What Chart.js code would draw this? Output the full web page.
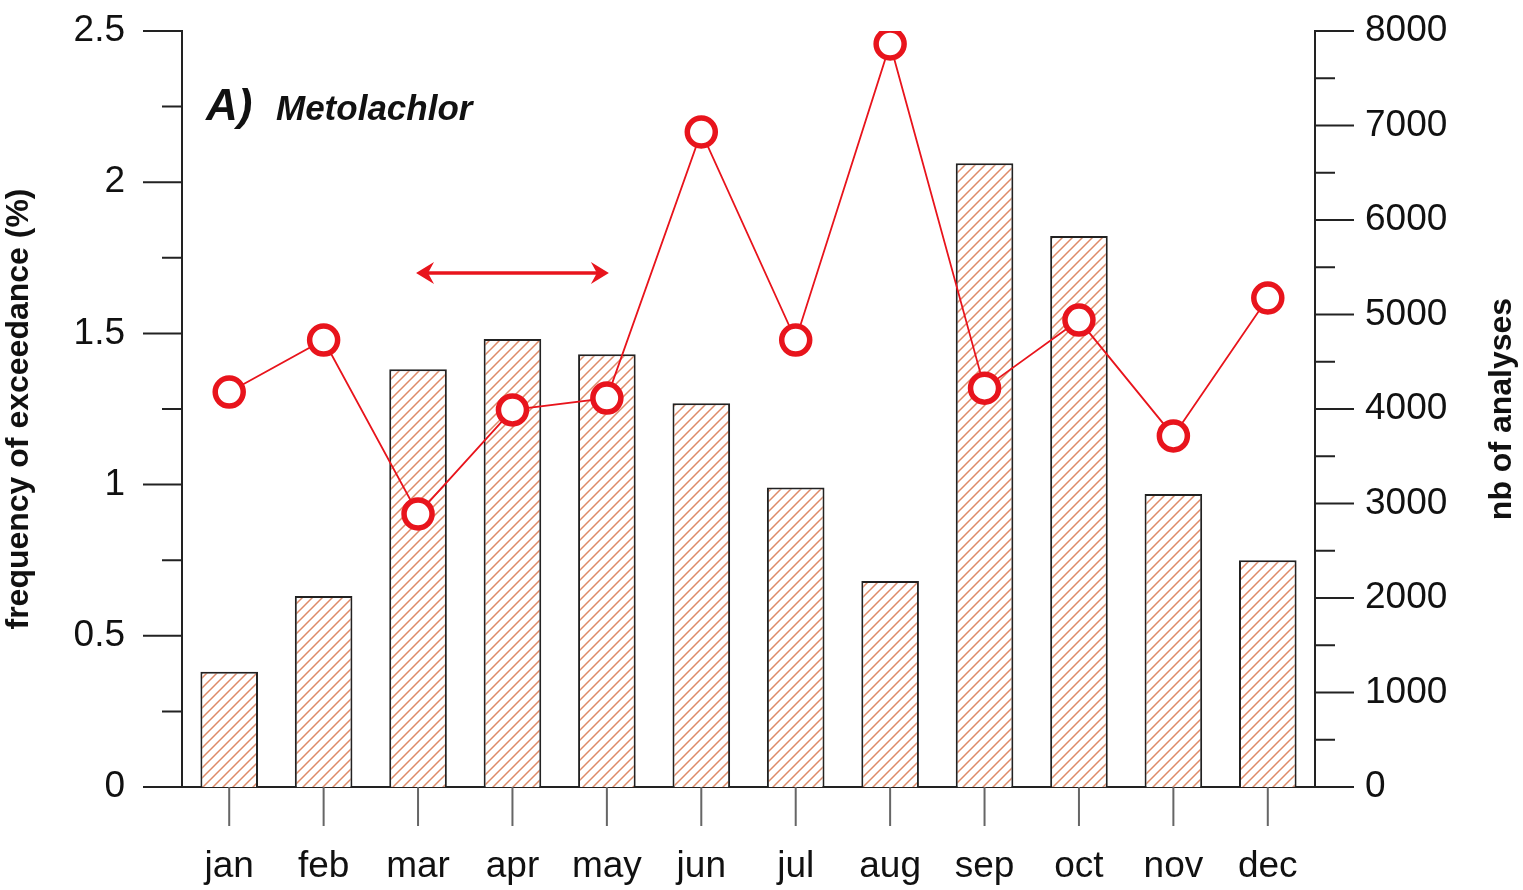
<!DOCTYPE html>
<html>
<head>
<meta charset="utf-8">
<title>Metolachlor</title>
<script src="https://cdn.jsdelivr.net/npm/chart.js@4/dist/chart.umd.min.js"></script>
<style>
  html, body { margin: 0; padding: 0; background: #fff; }
  #wrap { width: 1523px; height: 890px; }
</style>
</head>
<body>
<div id="wrap"><canvas id="chart" width="1523" height="890"></canvas></div>
<script>
const months = ['jan','feb','mar','apr','may','jun','jul','aug','sep','oct','nov','dec'];
// nb of analyses (right axis)
const analyses = [1220, 2020, 4420, 4740, 4580, 4060, 3170, 2180, 6600, 5830, 3100, 2400];
// frequency of exceedance in % (left axis)
const exceedance = [1.306, 1.478, 0.903, 1.247, 1.286, 2.166, 1.478, 2.457, 1.319, 1.544, 1.161, 1.617];
const leftTicks = [0, 0.5, 1, 1.5, 2, 2.5];
const rightTicks = [0, 1000, 2000, 3000, 4000, 5000, 6000, 7000, 8000];

const red = '#e8141c';
const font = 'Arial, "Liberation Sans", sans-serif';

// diagonal hatch fill
function hatch() {
  const c = document.createElement('canvas');
  c.width = 10; c.height = 10;
  const g = c.getContext('2d');
  g.fillStyle = '#fff';
  g.fillRect(0, 0, 10, 10);
  g.strokeStyle = '#de8a68';
  g.lineWidth = 1.5;
  g.beginPath();
  g.moveTo(0, 10); g.lineTo(10, 0);
  g.moveTo(-5, 5); g.lineTo(5, -5);
  g.moveTo(5, 15); g.lineTo(15, 5);
  g.stroke();
  return g.createPattern(c, 'repeat');
}

// no extra room for overflowing tick labels
function noPad(s) {
  s.paddingTop = 0; s.paddingBottom = 0; s.paddingLeft = 0; s.paddingRight = 0;
}

// axis ticks (major + minor) drawn outside the plot, plus arrow, titles
const decor = {
  id: 'decor',
  afterDraw(chart) {
    const ctx = chart.ctx;
    const a = chart.chartArea;
    const yl = chart.scales.y, yr = chart.scales.y2, x = chart.scales.x;
    ctx.save();
    ctx.strokeStyle = '#222';
    ctx.lineWidth = 2;
    ctx.beginPath();
    for (let v = 0; v <= 2.5001; v += 0.25) {
      const p = yl.getPixelForValue(v);
      const len = Math.abs(v / 0.5 - Math.round(v / 0.5)) < 1e-6 ? 39 : 20;
      ctx.moveTo(a.left - len, p); ctx.lineTo(a.left, p);
    }
    for (let v = 0; v <= 8000; v += 500) {
      const p = yr.getPixelForValue(v);
      const len = v % 1000 === 0 ? 39 : 20;
      ctx.moveTo(a.right, p); ctx.lineTo(a.right + len, p);
    }
    ctx.stroke();
    ctx.strokeStyle = '#666';
    ctx.beginPath();
    months.forEach((m, i) => {
      const p = x.getPixelForValue(i);
      ctx.moveTo(p, a.bottom); ctx.lineTo(p, a.bottom + 39);
    });
    ctx.stroke();

    // double arrow from mar to may
    const x1 = x.getPixelForValue(2), x2 = x.getPixelForValue(4);
    const ya = yl.getPixelForValue(1.70);
    ctx.strokeStyle = red; ctx.fillStyle = red; ctx.lineWidth = 3.5;
    ctx.beginPath(); ctx.moveTo(x1 + 6, ya); ctx.lineTo(x2 - 6, ya); ctx.stroke();
    ctx.beginPath();
    ctx.moveTo(x1 - 2, ya); ctx.lineTo(x1 + 16, ya - 11); ctx.lineTo(x1 + 10, ya); ctx.lineTo(x1 + 16, ya + 11); ctx.closePath();
    ctx.moveTo(x2 + 2, ya); ctx.lineTo(x2 - 16, ya - 11); ctx.lineTo(x2 - 10, ya); ctx.lineTo(x2 - 16, ya + 11); ctx.closePath();
    ctx.fill();

    ctx.fillStyle = '#111';
    ctx.textBaseline = 'alphabetic';
    ctx.font = 'italic bold 44px ' + font;
    ctx.fillText('A)', a.left + 24, a.top + 89);
    ctx.font = 'italic bold 35px ' + font;
    ctx.fillText('Metolachlor', a.left + 94, a.top + 89);

    // right axis title, reading bottom to top
    ctx.translate(1502, (a.top + a.bottom) / 2);
    ctx.rotate(-Math.PI / 2);
    ctx.textAlign = 'center';
    ctx.textBaseline = 'middle';
    ctx.font = 'bold 32px ' + font;
    ctx.fillText('nb of analyses', 0, 0);
    ctx.restore();
  }
};

new Chart(document.getElementById('chart'), {
  data: {
    labels: months,
    datasets: [
      {
        type: 'line',
        data: exceedance,
        yAxisID: 'y',
        borderColor: red,
        borderWidth: 1.8,
        pointRadius: 14,
        pointBorderWidth: 5.5,
        pointBorderColor: red,
        pointBackgroundColor: '#fff',
        order: 0
      },
      {
        type: 'bar',
        data: analyses,
        yAxisID: 'y2',
        backgroundColor: hatch(),
        borderColor: '#222',
        borderWidth: 2,
        barPercentage: 0.61,
        categoryPercentage: 1,
        order: 1
      }
    ]
  },
  options: {
    responsive: false,
    animation: false,
    layout: { padding: { top: 31, left: 0, right: 0, bottom: 0 } },
    plugins: { legend: { display: false }, tooltip: { enabled: false } },
    scales: {
      x: {
        offset: true,
        grid: { display: false, drawTicks: false },
        border: { display: true, color: '#222', width: 2 },
        ticks: { color: '#111', font: { family: font, size: 37 }, padding: 58 },
        afterFit(s) { s.height = 103; noPad(s); }
      },
      y: {
        position: 'left',
        min: 0, max: 2.5,
        afterBuildTicks(s) { s.ticks = leftTicks.map(v => ({ value: v })); },
        grid: { display: false, drawTicks: false },
        border: { display: true, color: '#222', width: 2 },
        ticks: { color: '#111', font: { family: font, size: 37 }, padding: 57, callback: v => String(v) },
        title: { display: true, text: 'frequency of exceedance (%)', color: '#111', font: { family: font, size: 32, weight: 'bold' }, padding: 0 },
        afterFit(s) { s.width = 182; noPad(s); }
      },
      y2: {
        position: 'right',
        min: 0, max: 8000,
        afterBuildTicks(s) { s.ticks = rightTicks.map(v => ({ value: v })); },
        grid: { display: false, drawTicks: false },
        border: { display: true, color: '#222', width: 2 },
        ticks: { color: '#111', font: { family: font, size: 37 }, padding: 50, callback: v => String(v) },
        afterFit(s) { s.width = 208; noPad(s); }
      }
    }
  },
  plugins: [decor]
});
</script>
</body>
</html>
